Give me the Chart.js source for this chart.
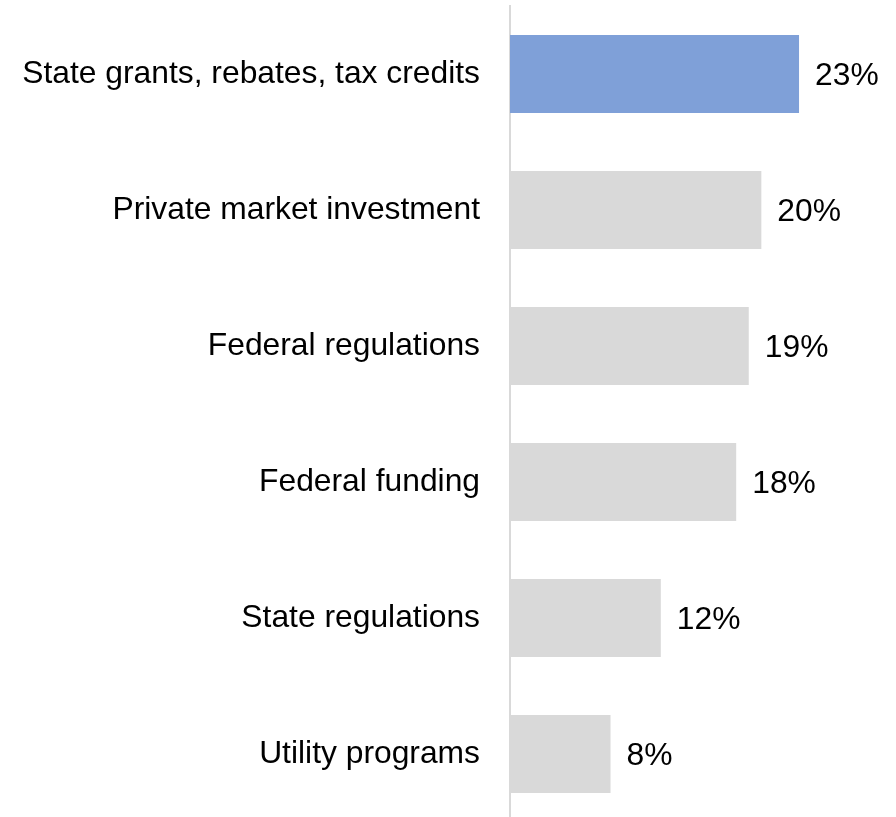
<!DOCTYPE html>
<html>
<head>
<meta charset="utf-8">
<script src="https://cdn.jsdelivr.net/npm/chart.js@4/dist/chart.umd.min.js"></script>
<style>
  html, body { margin: 0; padding: 0; background: #fff; overflow: hidden; }
  canvas { display: block; }
</style>
</head>
<body>
<canvas id="chart" width="896" height="822"></canvas>
<script>
const CATEGORIES = [
  "State grants, rebates, tax credits",
  "Private market investment",
  "Federal regulations",
  "Federal funding",
  "State regulations",
  "Utility programs",
];
const VALUES = [23, 20, 19, 18, 12, 8];
const HIGHLIGHT = "rgb(127, 160, 216)";
const MUTED = "rgb(217, 217, 217)";
const FONT = "'Liberation Sans', Arial, sans-serif";
const FONT_SIZE = 31.8;

// percent labels just past the end of each bar
const valueLabels = {
  id: "valueLabels",
  afterDatasetsDraw(chart) {
    const ctx = chart.ctx;
    const meta = chart.getDatasetMeta(0);
    ctx.save();
    ctx.font = `${FONT_SIZE}px ${FONT}`;
    ctx.fillStyle = "#000";
    ctx.textAlign = "left";
    ctx.textBaseline = "middle";
    meta.data.forEach((bar, i) => {
      ctx.fillText(VALUES[i] + "%", bar.x + 16, bar.y + 2);
    });
    ctx.restore();
  }
};

new Chart(document.getElementById("chart"), {
  type: "bar",
  data: {
    labels: CATEGORIES,
    datasets: [{
      data: VALUES,
      backgroundColor: VALUES.map((v, i) => i === 0 ? HIGHLIGHT : MUTED),
      borderWidth: 0,
      barPercentage: 0.574,
      categoryPercentage: 1,
    }]
  },
  options: {
    indexAxis: "y",
    responsive: false,
    animation: false,
    layout: { padding: { top: 6, right: 9, bottom: 0, left: 0 } },
    plugins: { legend: { display: false }, tooltip: { enabled: false } },
    scales: {
      x: { display: false, min: 0, max: 30 },
      y: {
        grid: { display: false },
        border: { display: true, color: MUTED, width: 2 },
        ticks: {
          color: "#000",
          font: { family: FONT, size: FONT_SIZE },
          padding: 22,
        },
        afterFit(scale) {
          scale.width = 510;
          scale.paddingTop = 0;
          scale.paddingBottom = 0;
        }
      }
    }
  },
  plugins: [valueLabels]
});
</script>
</body>
</html>
